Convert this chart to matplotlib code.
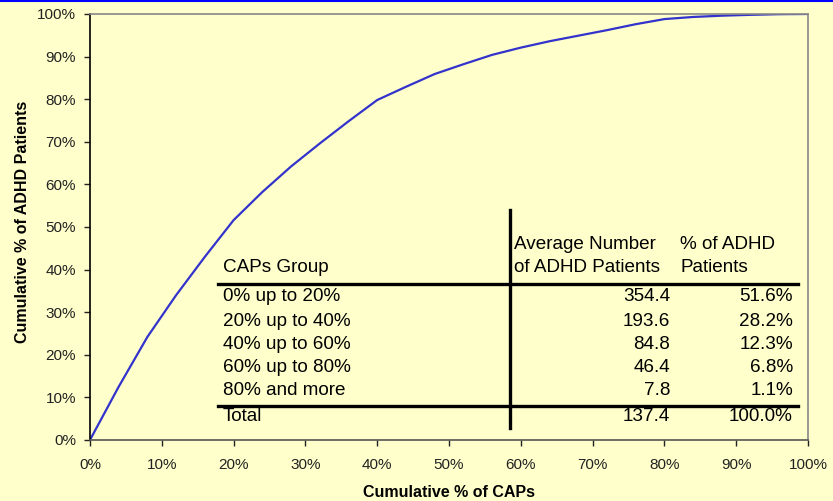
import matplotlib
matplotlib.use("Agg")
import matplotlib.pyplot as plt
from matplotlib.lines import Line2D
from matplotlib.ticker import PercentFormatter

# cumulative curve (every 4% of CAPs)
caps_pct = [0, 4, 8, 12, 16, 20, 24, 28, 32, 36, 40, 44, 48, 52, 56, 60,
            64, 68, 72, 76, 80, 84, 88, 92, 96, 100]
adhd_pct = [0, 12.5, 24.2, 34.0, 43.0, 51.6, 58.2, 64.2, 69.6, 74.8, 79.8,
            82.9, 85.9, 88.2, 90.4, 92.1, 93.6, 94.9, 96.2, 97.6, 98.8,
            99.3, 99.6, 99.8, 99.95, 100]

# table inside the chart
groups = ["0% up to 20%", "20% up to 40%", "40% up to 60%", "60% up to 80%",
          "80% and more", "Total"]
avg_patients = ["354.4", "193.6", "84.8", "46.4", "7.8", "137.4"]
share_patients = ["51.6%", "28.2%", "12.3%", "6.8%", "1.1%", "100.0%"]

bg = "#FFFFCC"
plt.rcParams["font.family"] = ["Liberation Sans", "DejaVu Sans"]

fig = plt.figure(figsize=(8.33, 5.01), dpi=100, facecolor=bg)
ax = fig.add_axes([0.1080, 0.1218, 0.8620, 0.8503], facecolor=bg)

ax.plot(caps_pct, adhd_pct, color="#3333CC", lw=1.6)

ax.set_xlim(0, 100)
ax.set_ylim(0, 100)
ax.set_xticks(range(0, 101, 10))
ax.set_yticks(range(0, 101, 10))
ax.xaxis.set_major_formatter(PercentFormatter(decimals=0))
ax.yaxis.set_major_formatter(PercentFormatter(decimals=0))
ax.tick_params(labelsize=11, length=4, width=1, colors="#222222")
ax.tick_params(axis="y", pad=6)
ax.tick_params(axis="x", pad=9)

ax.spines["left"].set_color("black")
ax.spines["bottom"].set_color("#555555")
ax.spines["top"].set_color("#888888")
ax.spines["right"].set_color("#888888")
for s in ax.spines.values():
    s.set_linewidth(1.2)

ax.set_xlabel("Cumulative % of CAPs", fontsize=11.5, fontweight="bold",
              labelpad=9)
ax.set_ylabel("Cumulative % of ADHD Patients", fontsize=11.5,
              fontweight="bold", labelpad=11)
ax.yaxis.set_label_coords(-0.0835, 0.512)

# table lines
tr = ax.transAxes
ax.add_line(Line2D([0.585, 0.585], [0.028, 0.540], transform=tr, color="black", lw=2.4))
ax.add_line(Line2D([0.178, 0.986], [0.366, 0.366], transform=tr, color="black", lw=2.4))
ax.add_line(Line2D([0.178, 0.986], [0.0798, 0.0798], transform=tr, color="black", lw=2.4))

fs = 13.6
ax.text(0.185, 0.406, "CAPs Group", transform=tr, fontsize=fs, va="center")
ax.text(0.5905, 0.460, "Average Number", transform=tr, fontsize=fs, va="center")
ax.text(0.5905, 0.406, "of ADHD Patients", transform=tr, fontsize=fs, va="center")
ax.text(0.822, 0.460, "% of ADHD", transform=tr, fontsize=fs, va="center")
ax.text(0.822, 0.406, "Patients", transform=tr, fontsize=fs, va="center")

row_y = [0.336, 0.279, 0.225, 0.169, 0.115, 0.054]
for y, g, a, s in zip(row_y, groups, avg_patients, share_patients):
    ax.text(0.185, y, g, transform=tr, fontsize=fs, va="center")
    ax.text(0.808, y, a, transform=tr, fontsize=fs, va="center", ha="right")
    ax.text(0.979, y, s, transform=tr, fontsize=fs, va="center", ha="right")

# blue border line at the top of the figure
fig.add_artist(Line2D([0, 1], [0.998, 0.998], transform=fig.transFigure,
                      color="#0000FF", lw=1.5))

fig.savefig("out.png", dpi=100, facecolor=bg)
